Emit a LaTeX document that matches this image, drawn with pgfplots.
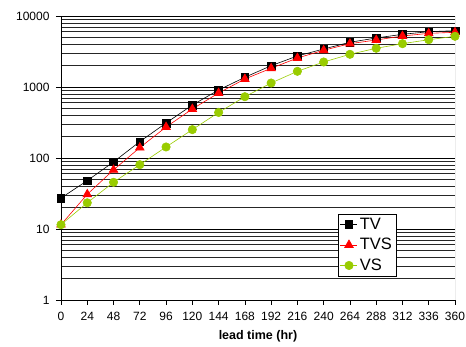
\documentclass[border=0pt]{standalone}
\usepackage{fontspec}
\setmainfont{Liberation Sans}
\usepackage{pgfplots}
\pgfplotsset{compat=1.18}
\definecolor{vsgreen}{RGB}{153,204,0}
\begin{document}
\begin{tikzpicture}
\useasboundingbox (-61bp,-47bp) rectangle (405bp,300bp);
\begin{axis}[
  scale only axis, width=394bp, height=284bp,
  anchor=south west, at={(0,0)},
  ymode=log, ymin=1, ymax=10000, xmin=0, xmax=360,
  xtick={0,24,...,360},
  ytick={1,10,100,1000,10000},
  yticklabels={1,10,100,1000,10000},
  minor ytick={2,3,4,5,6,7,8,9,20,30,40,50,60,70,80,90,200,300,400,500,600,700,800,900,2000,3000,4000,5000,6000,7000,8000,9000},
  ymajorgrids, yminorgrids,
  major grid style={black, line width=0.6bp},
  minor grid style={black!85, line width=0.6bp},
  minor tick length=0pt, major tick length=5bp,
  tick align=outside, xtick pos=bottom, ytick pos=left,
  tick style={black, line width=0.6bp},
  axis line style={draw=none},
  /pgf/number format/assume math mode=true,
  ticklabel style={font=\fontsize{12bp}{14bp}\selectfont},
  xticklabel style={yshift=-4bp},
  yticklabel style={xshift=-3bp},
  xlabel={\bfseries lead time (hr)},
  xlabel style={font=\fontsize{12.5bp}{14bp}\selectfont, yshift=-3bp},
  legend style={at={(0.703,0.303)}, anchor=north west, draw=black, fill=white,
    font=\fontsize{16.5bp}{20bp}\selectfont, row sep=3.5bp, inner sep=2bp,
    cells={anchor=west}},
  legend cell align=left,
]
\draw[black, line width=0.8bp] (rel axis cs:0,0) -- (rel axis cs:0,1);
\draw[black, line width=0.8bp] (rel axis cs:0,0) -- (rel axis cs:1,0);
\draw[black!55, line width=0.8bp] (rel axis cs:1,0) -- (rel axis cs:1,1);
\draw[black, line width=0.8bp] (rel axis cs:0,1) -- (rel axis cs:1,1);
\addplot[black, line width=0.6bp, mark=square*, mark size=3.8bp, mark options={solid}] coordinates {
(0,27.3) (24,48) (48,88) (72,170) (96,311) (120,557) (144,907) (168,1370) (192,1995) (216,2735) (240,3430) (264,4265) (288,4900) (312,5520) (336,6010) (360,6210)};
\addlegendentry{TV}
\addplot[red, line width=0.6bp, mark=triangle*, mark size=5bp, mark options={solid}] coordinates {
(0,11.5) (24,30.8) (48,68) (72,140) (96,273) (120,490) (144,823) (168,1297) (192,1834) (216,2560) (240,3290) (264,4075) (288,4590) (312,5225) (336,5700) (360,5890)};
\addlegendentry{TVS}
\addplot[vsgreen, line width=0.6bp, mark=*, mark size=4.2bp, mark options={solid}] coordinates {
(0,11.5) (24,23.4) (48,45.5) (72,80.5) (96,143) (120,251) (144,438) (168,730) (192,1138) (216,1663) (240,2250) (264,2887) (288,3510) (312,4075) (336,4636) (360,5176)};
\addlegendentry{VS}
\end{axis}
\end{tikzpicture}
\end{document}
